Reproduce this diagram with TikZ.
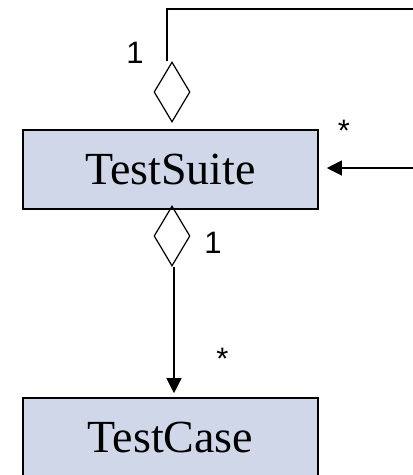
\documentclass[tikz,border=0pt]{standalone}
\usepackage{fontspec}
\setmainfont{Liberation Serif}
\newfontfamily\multfont{Liberation Sans}
\usetikzlibrary{shapes.geometric,arrows.meta}
\definecolor{umlFill}{HTML}{D0D7E9}
\definecolor{umlLine}{HTML}{000000}

\begin{document}
\begin{tikzpicture}[
    x=1pt, y=-1pt,
    classbox/.style={draw=umlLine, fill=umlFill, line width=1.6pt,
        minimum width=295pt, minimum height=79pt, inner sep=0pt,
        font=\fontsize{46}{50}\selectfont},
    aggdiamond/.style={shape=diamond, draw=umlLine, line width=1.2pt,
        minimum width=36pt, minimum height=60pt, inner sep=0pt},
    link/.style={draw=umlLine, line width=1.2pt},
    navarrow/.style={link, -{Triangle[length=15pt,width=15pt]}},
    mult/.style={anchor=base, inner sep=0pt,
        font=\multfont\fontsize{31}{34}\selectfont},
]

\useasboundingbox (0,0) rectangle (413,475);

% ----------------------------------------------------------------------
% Classes
% ----------------------------------------------------------------------
\node[classbox] (suite) at (170.5,169.5) {TestSuite};
\node[classbox] (case)  at (170.5,437.5) {TestCase};

% Aggregation diamonds (open), on top and below TestSuite
\node[aggdiamond] (aggSelf) at (172,92)  {};
\node[aggdiamond] (aggCase) at (172,236) {};

% ----------------------------------------------------------------------
% Self-association: runs off the right edge and comes back into TestSuite
% ----------------------------------------------------------------------
\coordinate (loopA) at (167,9);
\coordinate (loopB) at (440,9);
\coordinate (loopC) at (440,168);
\draw[navarrow, shorten >=8pt]
    ([xshift=-5pt]aggSelf.north) -- (loopA) -- (loopB) -- (loopC)
        -- (suite.east |- loopC);

% TestSuite -> TestCase
\draw[navarrow, shorten >=4pt]
    ([xshift=2pt]aggCase.south) -- ([xshift=2pt]aggCase.south |- case.north);

% Multiplicities
\node[mult] (mSelfAgg) at (135,63)    {1};
\node[mult] (mSelfNav) at (344,141)   {*};
\node[mult] (mCaseAgg) at (213,253)   {1};
\node[mult] (mCaseNav) at (222.5,369) {*};

\end{tikzpicture}
\end{document}
